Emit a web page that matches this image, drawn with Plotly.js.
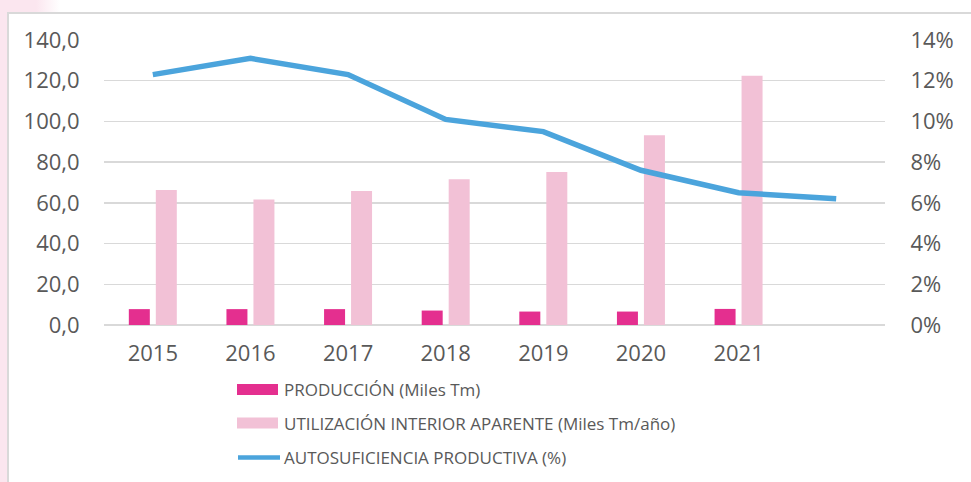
<!DOCTYPE html>
<html>
<head>
<meta charset="utf-8">
<script src="https://cdn.plot.ly/plotly-3.0.1.min.js"></script>
<style>
  html, body { margin: 0; padding: 0; background: #ffffff; width: 971px; height: 482px; overflow: hidden; }
  #pinkLeft { position: absolute; left: 0; top: 0; width: 7px; height: 482px; background: #fbe6ef; }
  #pinkTop { position: absolute; left: 0; top: 0; width: 60px; height: 12px; background: linear-gradient(to right, #fbe6ef 60%, #ffffff); }
  #frame { position: absolute; left: 7px; top: 12px; width: 964px; height: 470px; border-left: 2px solid #d9d9d9; border-top: 2px solid #d9d9d9; box-sizing: border-box; }
  #chart { position: absolute; left: 0; top: 0; width: 971px; height: 482px; }
</style>
</head>
<body>
<div id="pinkLeft"></div>
<div id="pinkTop"></div>
<div id="frame"></div>
<div id="chart"></div>
<script>
// ---- data ----
const years = ['2015', '2016', '2017', '2018', '2019', '2020', '2021', '2022'];
const yearLabels = ['2015', '2016', '2017', '2018', '2019', '2020', '2021', ''];
const produccion = [7.8, 7.8, 7.8, 7.1, 6.6, 6.6, 7.9, null];
const utilizacion = [66.3, 61.7, 65.8, 71.6, 75.1, 93.2, 122.5, null];
const autosuficiencia = [12.3, 13.1, 12.3, 10.1, 9.5, 7.6, 6.5, 6.2];
const seriesNames = [
  'PRODUCCIÓN (Miles Tm)',
  'UTILIZACIÓN INTERIOR APARENTE (Miles Tm/año)',
  'AUTOSUFICIENCIA PRODUCTIVA (%)'
];
const leftTicks = [0, 20, 40, 60, 80, 100, 120, 140];
const leftTickLabels = ['0,0', '20,0', '40,0', '60,0', '80,0', '100,0', '120,0', '140,0'];
const rightTicks = [0, 2, 4, 6, 8, 10, 12, 14];
const rightTickLabels = ['0%', '2%', '4%', '6%', '8%', '10%', '12%', '14%'];

// ---- styling ----
const colProd = '#e42f8f';
const colUtil = '#f2c1d6';
const colLine = '#4ba4dc';
const txtCol = '#595959';
const fontFam = '"Open Sans", "Noto Sans", sans-serif';

// plot area in pixels
const L = 104, R = 885, T = 40, B = 325, W = 971, H = 482;
const px = x => (x - L) / (R - L);
const py = y => (B - y) / (B - T);

const traces = [
  { type: 'bar', x: years, y: produccion, name: seriesNames[0], marker: { color: colProd }, yaxis: 'y' },
  { type: 'bar', x: years, y: utilizacion, name: seriesNames[1], marker: { color: colUtil }, yaxis: 'y' },
  { type: 'scatter', mode: 'lines', x: years, y: autosuficiencia, name: seriesNames[2], line: { color: colLine, width: 5.5 }, yaxis: 'y2' }
];

// custom legend (wide symbols as in the reference)
const legendRows = [
  { y: 389.5, kind: 'rect', color: colProd, text: seriesNames[0] },
  { y: 423, kind: 'rect', color: colUtil, text: seriesNames[1] },
  { y: 457.5, kind: 'line', color: colLine, text: seriesNames[2] }
];
const shapes = [];
const annotations = [];
legendRows.forEach(r => {
  if (r.kind === 'rect') {
    shapes.push({ type: 'rect', xref: 'paper', yref: 'paper', x0: px(237), x1: px(278), y0: py(r.y - 5.5), y1: py(r.y + 5.5), fillcolor: r.color, line: { width: 0 } });
  } else {
    shapes.push({ type: 'line', xref: 'paper', yref: 'paper', x0: px(238), x1: px(280), y0: py(r.y), y1: py(r.y), line: { color: r.color, width: 4.5 } });
  }
  annotations.push({ xref: 'paper', yref: 'paper', x: px(282), y: py(r.y), xanchor: 'left', yanchor: 'middle', text: r.text, showarrow: false, font: { family: fontFam, size: 17, color: txtCol } });
});

const layout = {
  width: W, height: H,
  margin: { l: L, r: W - R, t: T, b: H - B, pad: 0 },
  paper_bgcolor: 'rgba(0,0,0,0)',
  plot_bgcolor: 'rgba(0,0,0,0)',
  showlegend: false,
  barmode: 'group',
  bargap: 0.447,
  bargroupgap: 0.222,
  font: { family: fontFam, size: 22, color: txtCol },
  xaxis: {
    type: 'category',
    tickvals: years, ticktext: yearLabels,
    showgrid: false, showline: false, zeroline: false,
    ticks: 'outside', ticklen: 9, tickcolor: 'rgba(0,0,0,0)',
    tickfont: { family: fontFam, size: 22, color: txtCol },
    fixedrange: true
  },
  yaxis: {
    range: [0, 140], tickvals: leftTicks, ticktext: leftTickLabels,
    showgrid: true, gridcolor: '#d9d9d9', gridwidth: 1.5,
    zeroline: true, zerolinecolor: '#d9d9d9', zerolinewidth: 1.5,
    showline: false,
    ticks: 'outside', ticklen: 19, tickcolor: 'rgba(0,0,0,0)',
    tickfont: { family: fontFam, size: 22, color: txtCol },
    fixedrange: true
  },
  yaxis2: {
    overlaying: 'y', side: 'right',
    range: [0, 14], tickvals: rightTicks, ticktext: rightTickLabels,
    showgrid: false, zeroline: false, showline: false,
    ticks: 'outside', ticklen: 20, tickcolor: 'rgba(0,0,0,0)',
    tickfont: { family: fontFam, size: 22, color: txtCol },
    fixedrange: true
  },
  shapes: shapes,
  annotations: annotations
};

Plotly.newPlot('chart', traces, layout, { displayModeBar: false, staticPlot: true });
</script>
</body>
</html>
